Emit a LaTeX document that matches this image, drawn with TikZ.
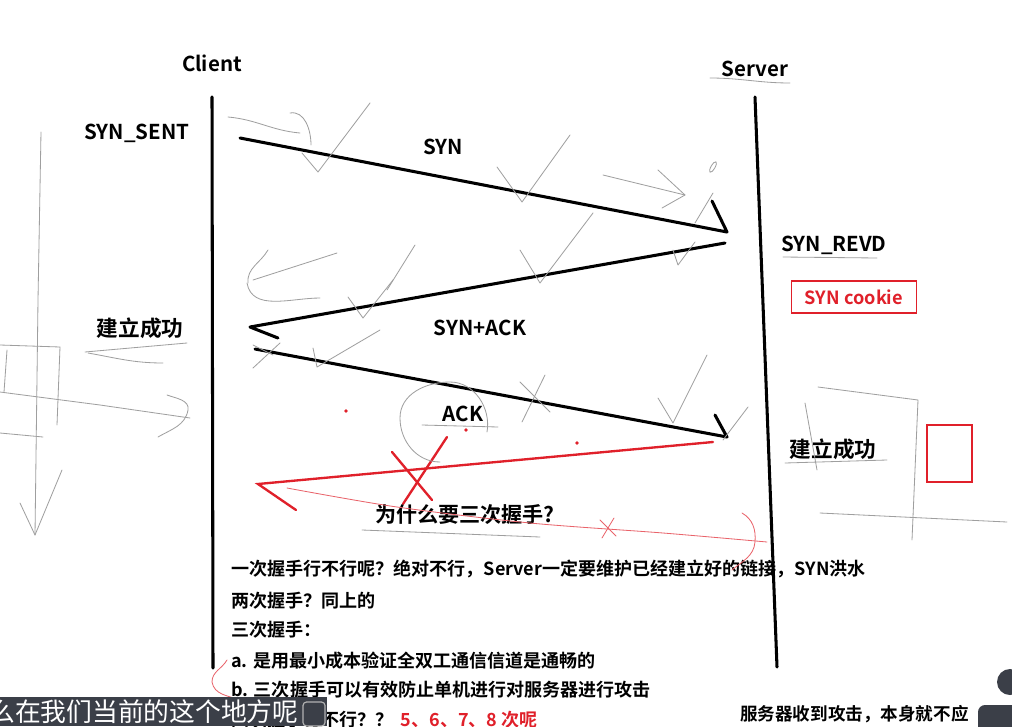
\documentclass[tikz,border=0pt]{standalone}
\usepackage{fontspec}
\setmainfont{Noto Sans CJK SC}[BoldFont={* Bold}]
\usetikzlibrary{positioning}
\definecolor{capbg}{HTML}{3B3F48}
\definecolor{inkred}{HTML}{E0202A}
\tikzset{
  life/.style={line width=2.6pt,line cap=round},
  msg/.style={line width=2.6pt,line cap=round,line join=round},
  badmsg/.style={line width=2pt,inkred,line cap=round},
  scrib/.style={gray!75,line width=0.7pt,line cap=round,line join=round},
  redscrib/.style={inkred!70,line width=0.7pt,line cap=round},
  lbl/.style={font=\bfseries\fontsize{17.5pt}{19pt}\selectfont,inner sep=1pt},
  note/.style={font=\bfseries\fontsize{15.4pt}{17pt}\selectfont,anchor=west,inner sep=0pt},
}
\begin{document}
\begin{tikzpicture}[x=0.03cm,y=-0.03cm]
  \useasboundingbox[fill=white] (0,0) rectangle (1012,726);
  % actors and lifelines
  \node[lbl] (client) at (212,63) {Client};
  \node[lbl] (server) at (755,69) {Server};
  \coordinate (ctop) at (212,97);
  \coordinate (cbot) at (213,668);
  \coordinate (stop) at (755,97);
  \coordinate (sbot) at (777,667);
  \draw[life] (ctop) -- (cbot);
  \draw[life] (stop) -- (sbot);
  % states
  \node[lbl] (synsent) at (137,133) {SYN\_SENT};
  \node[lbl,font=\bfseries\fontsize{18.5pt}{20pt}\selectfont] (estc) at (140,328) {建立成功};
  \node[lbl] (synrevd) at (834,245) {SYN\_REVD};
  \node[lbl,font=\bfseries\fontsize{18.5pt}{20pt}\selectfont] (ests) at (833,449) {建立成功};
  \node[draw=inkred,line width=1.6pt,text=inkred,font=\bfseries\fontsize{15.5pt}{17pt}\selectfont,
        minimum width=3.75cm,minimum height=0.95cm] (cookie) at (854,297) {SYN cookie};
  \node[draw=inkred,line width=1.8pt,minimum width=1.35cm,minimum height=1.7cm] (mark) at (949.5,453.5) {};
  % handshake messages
  \coordinate (syna) at (240,138);
  \coordinate (synb) at (727,232);
  \coordinate (sacka) at (725,243);
  \coordinate (sackb) at (250,327);
  \coordinate (acka) at (255,349);
  \coordinate (ackb) at (727,437);
  \draw[msg] (syna) -- (synb) -- ++(-15,-31);
  \draw[msg] (sacka) -- (sackb) -- ++(28,11);
  \draw[msg] (acka) -- (ackb) -- ++(-12,-22);
  \node[lbl] (synlbl) at (443,147) {SYN};
  \node[lbl] (sacklbl) at (480,328) {SYN+ACK};
  \node[lbl] (acklbl) at (463,414) {ACK};
  % the lost reply, crossed out
  \coordinate (bada) at (713,442);
  \coordinate (badb) at (258,484);
  \draw[badmsg] (bada) -- (badb) -- ++(38,26);
  \draw[badmsg] (392,452) -- (432,500);
  \draw[badmsg] (447,437) -- (403,504);
  \foreach \p in {(346,411),(466,430),(577,443)}
    \fill[inkred] \p circle (1.8);
  \node[lbl,font=\bfseries\fontsize{18pt}{20pt}\selectfont] (why) at (465,515) {为什么要三次握手?};
  % notes
  \node[note] (l1) at (231,569) {一次握手行不行呢？绝对不行，Server一定要维护已经建立好的链接，SYN洪水};
  \node[note] (l2) at (231,601) {两次握手？同上的};
  \node[note] (l3) at (231,630) {三次握手：};
  \node[note] (l4) at (231,661) {a. 是用最小成本验证全双工通信信道是通畅的};
  \node[note] (l5) at (231,690) {b. 三次握手可以有效防止单机进行对服务器进行攻击};
  \node[note] (l6) at (231,720) {四次握手行不行？？};
  \node[note,text=inkred,right=0.2cm of l6] (l7) {5、6、7、8 次呢};
  \node[note,font=\bfseries\fontsize{15pt}{17pt}\selectfont] (attack) at (740,714) {服务器收到攻击，本身就不应};
  % pen scribbles
  \draw[scrib] (41,132) -- (38,300) -- (35,535);
  \draw[scrib] (20,503) -- (35,535) -- (62,470);
  \draw[scrib] (0,345) -- (60,347) -- (57,425);
  \draw[scrib] (7,350) -- (4,392);
  \draw[scrib] (0,433) -- (43,437);
  \draw[scrib] (0,392) -- (100,405) -- (190,418);
  \draw[scrib] (167,395) to[out=-20,in=80] (188,410) to[out=-100,in=30] (158,437);
  \draw[scrib] (85,352) -- (187,343);
  \draw[scrib] (88,353) to[out=-10,in=180] (163,363);
  \draw[scrib] (228,117) to[out=-5,in=175] (300,133);
  \draw[scrib] (290,113) to[out=10,in=90] (311,145);
  \draw[scrib] (302,153) -- (318,172) -- (370,103);
  \draw[scrib] (497,167) -- (522,202) -- (570,135);
  \draw[scrib] (603,175) -- (685,195);
  \draw[scrib] (658,170) -- (685,195) -- (662,208);
  \draw[scrib,rotate around={60:(713,167)}] (713,167) ellipse (6 and 2);
  \draw[scrib] (713,193) -- (695,223);
  \draw[scrib] (520,250) -- (540,283) -- (593,213);
  \draw[scrib] (673,250) -- (678,265) -- (695,242);
  \draw[scrib] (415,245) -- (387,290);
  \draw[scrib] (337,253) -- (253,280);
  \draw[scrib] (268,250) to[out=-120,in=95] (248,283);
  \draw[scrib] (247,283) to[out=-80,in=180] (320,298);
  \draw[scrib] (348,297) -- (363,318) -- (393,280);
  \draw[scrib] (253,345) -- (273,355);
  \draw[scrib] (253,368) -- (280,343);
  \draw[scrib] (313,348) -- (317,367) -- (380,330);
  \draw[scrib] (487,432) to[out=80,in=0] (450,382) to[out=180,in=90] (400,418) to[out=-90,in=180] (440,462);
  \draw[scrib] (422,425) -- (498,427);
  \draw[scrib] (520,382) -- (550,412);
  \draw[scrib] (545,375) -- (522,422);
  \draw[scrib] (658,398) -- (673,423) -- (707,355);
  \draw[scrib] (723,440) -- (748,407);
  \draw[scrib] (362,530) -- (540,537);
  \draw[scrib] (710,78) to[out=0,in=180] (790,83);
  \draw[scrib] (783,257) -- (877,258);
  \draw[scrib] (818,387) -- (918,400) -- (912,540);
  \draw[scrib] (805,403) -- (817,470);
  \draw[scrib] (785,463) -- (887,460);
  \draw[scrib] (820,513) -- (1007,522);
  \draw[redscrib] plot[smooth] coordinates {(287,488) (397,507) (530,523) (663,533) (767,542)};
  \draw[redscrib] (600,520) -- (616,536);
  \draw[redscrib] (614,518) -- (602,538);
  \draw[redscrib] (742,513) to[out=-30,in=85] (755,542) to[out=-95,in=40] (732,570);
  \draw[redscrib] (227,660) to[out=-120,in=90] (212,682) to[out=-80,in=160] (240,700);
  % video overlay
  \fill[capbg] (0,697) rectangle (327,726);
  \draw[gray!60,line width=1pt,rounded corners=3pt] (303,702) rectangle (325,726);
  \node[anchor=west,inner sep=0pt,text=white,font=\fontsize{22pt}{24pt}\selectfont] (caption) at (-11,712) {么在我们当前的这个地方呢};
  \fill[capbg] (1010,682) circle (13);
  \fill[capbg,rounded corners=6pt] (978,705) rectangle (1030,740);
\end{tikzpicture}
\end{document}
